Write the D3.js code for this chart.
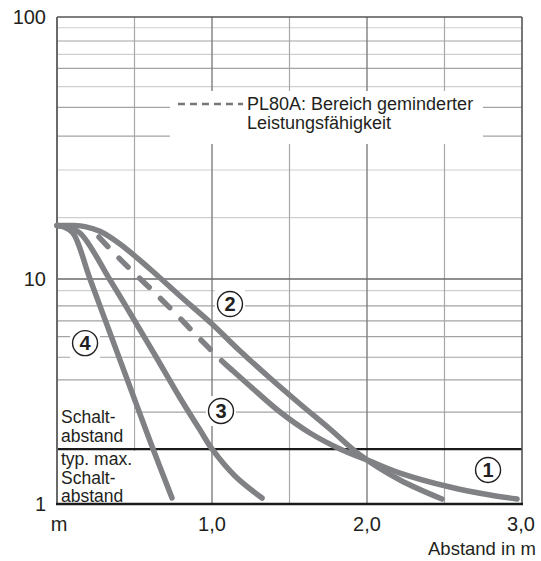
<!DOCTYPE html>
<html><head><meta charset="utf-8">
<script src="https://cdn.jsdelivr.net/npm/d3@7"></script>
<style>
body{margin:0;background:#fff}
svg{display:block}
text{font-family:"Liberation Sans",Arial,sans-serif;fill:#231f20}
</style>
</head><body>
<svg id="c" width="541" height="561"></svg>
<script>
// ---- data ----
const xTickValues = [0, 1, 2, 3];
const xTickLabels = ["m", "1,0", "2,0", "3,0"];
const yTickValues = [1, 10, 100];
const yTickLabels = ["1", "10", "100"];
const xGridValues = [0.5, 1, 1.5, 2, 2.5];
const xGridStrong = [false, true, false, true, false];
const yGridValues = [91.0, 81.0, 72.0, 63.7, 54.2, 45.2, 35.1, 26.06, 17.14,
                     8.87, 7.59, 6.51, 5.54, 4.49, 3.56, 2.56];
const yGridStrong = [false, true, false, true, false, true, true, false, false,
                     false, true, true, true, true, true, true];
const switchThreshold = 1.755;
const curve1Dashed = [[0.271,14.46],[0.374,12.46],[0.471,10.92],[0.619,8.844],[0.774,6.918],[0.923,5.412],[1.071,4.277],[1.129,3.94]];
const curve1Solid  = [[1.129,3.94],[1.245,3.345],[1.439,2.563],[1.632,2.068],[1.826,1.756],[2.019,1.55],[2.213,1.373],[2.535,1.19],[2.794,1.096],[2.968,1.052]];
const curve2 = [[0,16],[0.1,16],[0.18,15.85],[0.277,15.2],[0.406,13.6],[0.6,10.92],[0.794,8.4],[1.0,6.31],[1.181,4.786],[1.374,3.63],[1.568,2.783],[1.761,2.154],[1.955,1.651],[2.213,1.278],[2.484,1.052]];
const curve3 = [[0,16],[0.058,15.8],[0.148,14.98],[0.342,9.9],[0.471,7.06],[0.632,4.595],[0.794,2.959],[0.923,2.132],[1.0,1.756],[1.148,1.332],[1.323,1.063]];
const curve4 = [[0,16],[0.045,15.8],[0.103,14.98],[0.213,10],[0.342,5.754],[0.471,3.311],[0.6,1.905],[0.742,1.063]];
const curveNames = ["1", "2", "3", "4"];
const legendLines = ["PL80A: Bereich geminderter", "Leistungsfähigkeit"];
const lowerLabel = ["typ. max.", "Schalt-", "abstand"];
const upperLabel = ["Schalt-", "abstand"];
const xTitle = "Abstand in m";

// ---- layout ----
const L = 57, R = 522, T = 17, B = 504;
const svg = d3.select("#c");
const x = d3.scaleLinear().domain([0, 3]).range([L, R]);
const y = d3.scaleLog().domain([1, 10, 100]).range([B, 279, T]);

// grid
svg.append("g").selectAll("line").data(yGridValues).join("line")
  .attr("x1", L).attr("x2", R)
  .attr("y1", d => y(d)).attr("y2", d => y(d))
  .attr("stroke", (d, i) => yGridStrong[i] ? "#a3a3a3" : "#cfcfcf")
  .attr("stroke-width", 1.2);
svg.append("g").selectAll("line").data(xGridValues).join("line")
  .attr("x1", d => x(d)).attr("x2", d => x(d))
  .attr("y1", T).attr("y2", B)
  .attr("stroke", (d, i) => xGridStrong[i] ? "#7e7e7e" : "#a8a8a8")
  .attr("stroke-width", (d, i) => xGridStrong[i] ? 1.4 : 1.2);
svg.append("line").attr("x1", L).attr("x2", R).attr("y1", y(10)).attr("y2", y(10))
  .attr("stroke", "#6a6a6a").attr("stroke-width", 1.5);

// white knock-outs
const ko = (x0, y0, w, h) => svg.append("rect").attr("x", x0).attr("y", y0).attr("width", w).attr("height", h).attr("fill", "#fff");
ko(170, 91, 313, 53);
ko(58, 396, 76, 51);
ko(58, 451, 86, 52);

// threshold line
svg.append("line").attr("x1", L).attr("x2", R)
  .attr("y1", y(switchThreshold)).attr("y2", y(switchThreshold))
  .attr("stroke", "#1a1a1a").attr("stroke-width", 2.2);

// frame
svg.append("line").attr("x1", L).attr("x2", R).attr("y1", T).attr("y2", T).attr("stroke", "#555").attr("stroke-width", 1.6);
svg.append("line").attr("x1", R).attr("x2", R).attr("y1", T).attr("y2", B).attr("stroke", "#555").attr("stroke-width", 1.6);
svg.append("line").attr("x1", L).attr("x2", L).attr("y1", T).attr("y2", B).attr("stroke", "#6a6a6a").attr("stroke-width", 2);
svg.append("line").attr("x1", L - 1).attr("x2", R + 1).attr("y1", B).attr("y2", B).attr("stroke", "#1a1a1a").attr("stroke-width", 2.4);

const labelPos = [[2.781, 1.416], [1.116, 7.74], [1.058, 2.59], [0.181, 5.19]];
labelPos.forEach(p => ko(x(p[0]) - 15, y(p[1]) - 15, 30, 30));

// curves
const line = d3.line().x(d => x(d[0])).y(d => y(d[1])).curve(d3.curveCatmullRom.alpha(0.5));
const curveColor = "#808184";
[curve4, curve3, curve2, curve1Solid].forEach(c => {
  svg.append("path").attr("d", line(c)).attr("fill", "none")
    .attr("stroke", curveColor).attr("stroke-width", 5.5)
    .attr("stroke-linecap", "round").attr("stroke-linejoin", "round");
});
svg.append("path").attr("d", line(curve1Dashed)).attr("fill", "none")
  .attr("stroke", curveColor).attr("stroke-width", 5.5)
  .attr("stroke-linecap", "round").attr("stroke-dasharray", "13,16");

// circled numbers
labelPos.forEach((p, i) => {
  svg.append("circle").attr("cx", x(p[0])).attr("cy", y(p[1])).attr("r", 12.5)
    .attr("fill", "#fff").attr("stroke", "#231f20").attr("stroke-width", 1.4);
  svg.append("text").attr("x", x(p[0])).attr("y", y(p[1]) + 7)
    .attr("text-anchor", "middle").attr("font-size", 20).attr("font-weight", "bold")
    .text(curveNames[i]);
});

// legend
svg.append("line").attr("x1", 178).attr("x2", 243).attr("y1", 104).attr("y2", 104)
  .attr("stroke", "#777").attr("stroke-width", 2.6).attr("stroke-dasharray", "7,5");
legendLines.forEach((t, i) => svg.append("text").attr("x", 247).attr("y", 109.5 + i * 19)
  .attr("font-size", 18).text(t));

// side labels
upperLabel.forEach((t, i) => svg.append("text").attr("x", 61).attr("y", 423 + i * 18.7)
  .attr("font-size", 17.5).text(t));
lowerLabel.forEach((t, i) => svg.append("text").attr("x", 61).attr("y", 465 + i * 18.5)
  .attr("font-size", 17.5).text(t));

// y tick labels
yTickValues.forEach((v, i) => svg.append("text").attr("x", 46).attr("y", y(v) + 7)
  .attr("text-anchor", "end").attr("font-size", 20).text(yTickLabels[i]));
// x tick labels
xTickValues.forEach((v, i) => svg.append("text")
  .attr("x", i === 0 ? x(v) + 2 : (i === 3 ? x(v) - 1 : x(v)))
  .attr("y", 531).attr("text-anchor", "middle").attr("font-size", 20).text(xTickLabels[i]));
svg.append("text").attr("x", 536).attr("y", 555).attr("text-anchor", "end")
  .attr("font-size", 18.5).text(xTitle);
</script>
</body></html>
